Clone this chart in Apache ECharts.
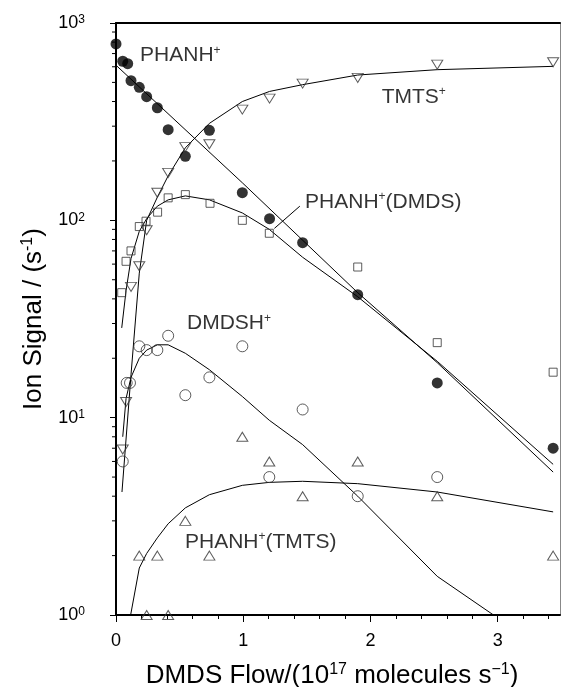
<!DOCTYPE html>
<html>
<head>
<meta charset="utf-8">
<script src="https://cdn.jsdelivr.net/npm/echarts@6/dist/echarts.min.js"></script>
<style>
html, body { margin: 0; padding: 0; background: #fff; }
#chart { width: 561px; height: 687px; }
</style>
</head>
<body>
<div id="chart"></div>
<script>
// measured points, x = DMDS flow (1e17 molecules/s), y = ion signal (1/s)
var phanhX = [0, 0.053, 0.092, 0.118, 0.183, 0.241, 0.325, 0.41, 0.545, 0.734, 0.993, 1.207, 1.467, 1.9, 2.525, 3.436];
var phanhY = [783, 640, 622, 510, 472, 423, 372, 288, 211, 286, 138, 102, 77, 42, 15, 7];

var tmtsX = [0.053, 0.079, 0.118, 0.183, 0.241, 0.325, 0.41, 0.545, 0.734, 0.993, 1.207, 1.467, 1.9, 2.525, 3.436];
var tmtsY = [6.9, 12, 46, 58.5, 89, 138, 174, 235, 243, 364, 414, 493, 527, 615, 632];

var dmdsX = [0.045, 0.079, 0.118, 0.183, 0.236, 0.327, 0.41, 0.545, 0.739, 0.993, 1.205, 1.9, 2.525, 3.436];
var dmdsY = [43, 62, 70, 93, 99, 110, 130, 135, 122, 100, 86, 58, 24, 17];

var dmdshX = [0.053, 0.084, 0.11, 0.183, 0.241, 0.325, 0.41, 0.545, 0.734, 0.993, 1.205, 1.467, 1.9, 2.525];
var dmdshY = [6, 15, 15, 23, 22, 22, 26, 13, 16, 23, 5, 11, 4, 5];

var adductX = [0.183, 0.241, 0.325, 0.41, 0.545, 0.734, 0.993, 1.205, 1.467, 1.9, 2.525, 3.436];
var adductY = [2, 1, 2, 1, 3, 2, 8, 6, 4, 6, 4, 2];

// model curves
var fitPhanhX = [0, 0.993, 1.9, 2.525, 3.436];
var fitPhanhY = [611, 155, 43, 19, 5.3];

var fitTmtsX = [0.047, 0.118, 0.183, 0.241, 0.325, 0.41, 0.545, 0.734, 0.993, 1.207, 1.467, 1.9, 2.525, 3.436];
var fitTmtsY = [4.2, 16.5, 54, 100, 131, 168, 233, 310, 400, 450, 487, 545, 580, 603];

var fitDmdsX = [0.045, 0.079, 0.118, 0.183, 0.241, 0.325, 0.41, 0.545, 0.734, 0.993, 1.205, 1.467, 1.9, 2.525, 3.436];
var fitDmdsY = [28.5, 44, 64, 88, 102, 118, 127, 133, 127, 109, 90, 65, 41, 19.3, 5.8];

var fitDmdshX = [0.053, 0.079, 0.118, 0.183, 0.241, 0.325, 0.41, 0.545, 0.734, 0.993, 1.205, 1.467, 1.9, 2.525, 3.436];
var fitDmdshY = [8.0, 12.5, 16, 20, 22, 23.4, 23.4, 21.2, 17.5, 12.8, 9.7, 7.3, 4.0, 1.57, 0.62];

var fitAdductX = [0.079, 0.115, 0.183, 0.241, 0.325, 0.41, 0.545, 0.734, 0.993, 1.205, 1.467, 1.9, 2.525, 3.436];
var fitAdductY = [0.7, 1.0, 1.73, 2.05, 2.46, 2.9, 3.49, 4.07, 4.54, 4.7, 4.76, 4.63, 4.2, 3.33];

// axis ticks
var xTicks = [0, 1, 2, 3];
var yMinorTicks = [2, 3, 4, 5, 6, 7, 8, 9, 20, 30, 40, 50, 60, 70, 80, 90, 200, 300, 400, 500, 600, 700, 800, 900];

// curve names
var noteText = ['PHANH{sup|+}', 'TMTS{sup|+}', 'PHANH{sup|+}(DMDS)', 'DMDSH{sup|+}', 'PHANH{sup|+}(TMTS)'];

var FONT = '"Liberation Sans", Arial, Helvetica, sans-serif';

function pairs(xs, ys) {
  var out = [];
  for (var i = 0; i < xs.length; i++) {
    out.push([xs[i], ys[i]]);
  }
  return out;
}

var fitLine = function (name, xs, ys) {
  return {
    name: name,
    type: 'line',
    data: pairs(xs, ys),
    showSymbol: false,
    symbol: 'none',
    lineStyle: { color: '#000', width: 1 },
    silent: true,
    z: 2
  };
};

var points = function (name, xs, ys, symbol, size, filled, rotate) {
  return {
    name: name,
    type: 'scatter',
    data: pairs(xs, ys),
    symbol: symbol,
    symbolSize: size,
    symbolRotate: rotate || 0,
    clip: false,
    itemStyle: filled
      ? { color: '#000' }
      : { color: 'rgba(0,0,0,0)', borderColor: '#333', borderWidth: 1 },
    silent: true,
    z: 3
  };
};

// anchors of the curve names (data units, left edge / middle of text)
var notes = [
  [0.189, 683], [2.088, 421], [1.486, 124], [0.558, 30], [0.542, 2.35]
];

var noteRich = {
  sup: { fontSize: 12, fontFamily: FONT, color: '#000', verticalAlign: 'top', lineHeight: 12 }
};

var myChart = echarts.init(document.getElementById('chart'));

var option = {
  animation: false,
  backgroundColor: '#fff',
  grid: { left: 116, right: 1, top: 23, bottom: 72, containLabel: false, outerBoundsMode: 'none' },
  xAxis: [
    {
      type: 'value',
      min: 0,
      max: 3.49,
      interval: 1,
      axisLine: { show: true, onZero: false, lineStyle: { color: '#000', width: 2 } },
      axisTick: { show: true, customValues: xTicks, length: 7, lineStyle: { color: '#000', width: 1 } },
      minorTick: { show: true, splitNumber: 5, length: 4, lineStyle: { color: '#000', width: 1 } },
      splitLine: { show: false },
      axisLabel: {
        customValues: xTicks,
        margin: 17,
        color: '#000',
        fontSize: 18,
        fontFamily: FONT
      },
      name: 'DMDS Flow/(10{sup|17} molecules s{sup|\u22121})',
      nameLocation: 'middle',
      nameGap: 47,
      nameTextStyle: {
        color: '#000',
        fontSize: 26,
        fontFamily: FONT,
        lineHeight: 28,
        padding: [0, 12, 0, 0],
        rich: {
          sup: { fontSize: 16, fontFamily: FONT, color: '#000', verticalAlign: 'top', lineHeight: 16 }
        }
      }
    },
    {
      type: 'value',
      position: 'top',
      min: 0,
      max: 3.49,
      axisLine: { show: true, onZero: false, lineStyle: { color: '#000', width: 2 } },
      axisTick: { show: false },
      axisLabel: { show: false },
      splitLine: { show: false }
    }
  ],
  yAxis: [
    {
      type: 'log',
      logBase: 10,
      min: 1,
      max: 1000,
      axisLine: { show: true, onZero: false, lineStyle: { color: '#000', width: 2 } },
      axisTick: { show: true, length: 6, lineStyle: { color: '#000', width: 1 } },
      splitLine: { show: false },
      axisLabel: {
        margin: 31,
        color: '#000',
        fontSize: 18,
        fontFamily: FONT,
        formatter: function (v) {
          return '10{sup|' + Math.round(Math.log(v) / Math.LN10) + '}';
        },
        rich: {
          sup: { fontSize: 12, fontFamily: FONT, color: '#000', verticalAlign: 'top', lineHeight: 12 }
        }
      },
      name: 'Ion Signal / (s{sup|-1})',
      nameLocation: 'middle',
      nameRotate: 90,
      nameGap: 68,
      nameTextStyle: {
        color: '#000',
        fontSize: 26,
        fontFamily: FONT,
        lineHeight: 28,
        rich: {
          sup: { fontSize: 16, fontFamily: FONT, color: '#000', verticalAlign: 'top', lineHeight: 16 }
        }
      }
    },
    {
      type: 'log',
      position: 'right',
      min: 1,
      max: 1000,
      axisLine: { show: true, onZero: false, lineStyle: { color: '#888', width: 1 } },
      axisTick: { show: false },
      axisLabel: { show: false },
      splitLine: { show: false }
    }
  ],
  series: [
    fitLine('PHANH+ fit', fitPhanhX, fitPhanhY),
    fitLine('TMTS+ fit', fitTmtsX, fitTmtsY),
    fitLine('PHANH+(DMDS) fit', fitDmdsX, fitDmdsY),
    fitLine('DMDSH+ fit', fitDmdshX, fitDmdshY),
    fitLine('PHANH+(TMTS) fit', fitAdductX, fitAdductY),
    // leader from the PHANH+(DMDS) name to its curve
    {
      type: 'line',
      data: [[1.245, 91], [1.445, 118]],
      showSymbol: false,
      symbol: 'none',
      lineStyle: { color: '#000', width: 1 },
      silent: true
    },
    points('PHANH+', phanhX, phanhY, 'circle', 11, true),
    points('TMTS+', tmtsX, tmtsY, 'triangle', [11, 9], false, 180),
    points('PHANH+(DMDS)', dmdsX, dmdsY, 'rect', 8, false),
    points('DMDSH+', dmdshX, dmdshY, 'circle', 11, false),
    points('PHANH+(TMTS)', adductX, adductY, 'triangle', [11, 9], false),
    // y minor ticks (2..9 per decade)
    {
      type: 'custom',
      silent: true,
      clip: false,
      data: yMinorTicks.map(function (v) { return [0, v]; }),
      renderItem: function (params, api) {
        var p = api.coord([0, api.value(1)]);
        return {
          type: 'line',
          shape: { x1: p[0] - 4, y1: p[1], x2: p[0], y2: p[1] },
          style: { stroke: '#000', lineWidth: 1 }
        };
      }
    },
    // curve names
    {
      type: 'scatter',
      data: notes.map(function (n, i) { return [n[0], n[1], i]; }),
      symbolSize: 0,
      silent: true,
      clip: false,
      label: {
        show: true,
        position: 'right',
        distance: 0,
        color: '#000',
        fontSize: 21,
        fontFamily: FONT,
        lineHeight: 22,
        formatter: function (p) { return noteText[p.value[2]]; },
        rich: noteRich
      }
    }
  ]
};

myChart.setOption(option);
</script>
</body>
</html>
